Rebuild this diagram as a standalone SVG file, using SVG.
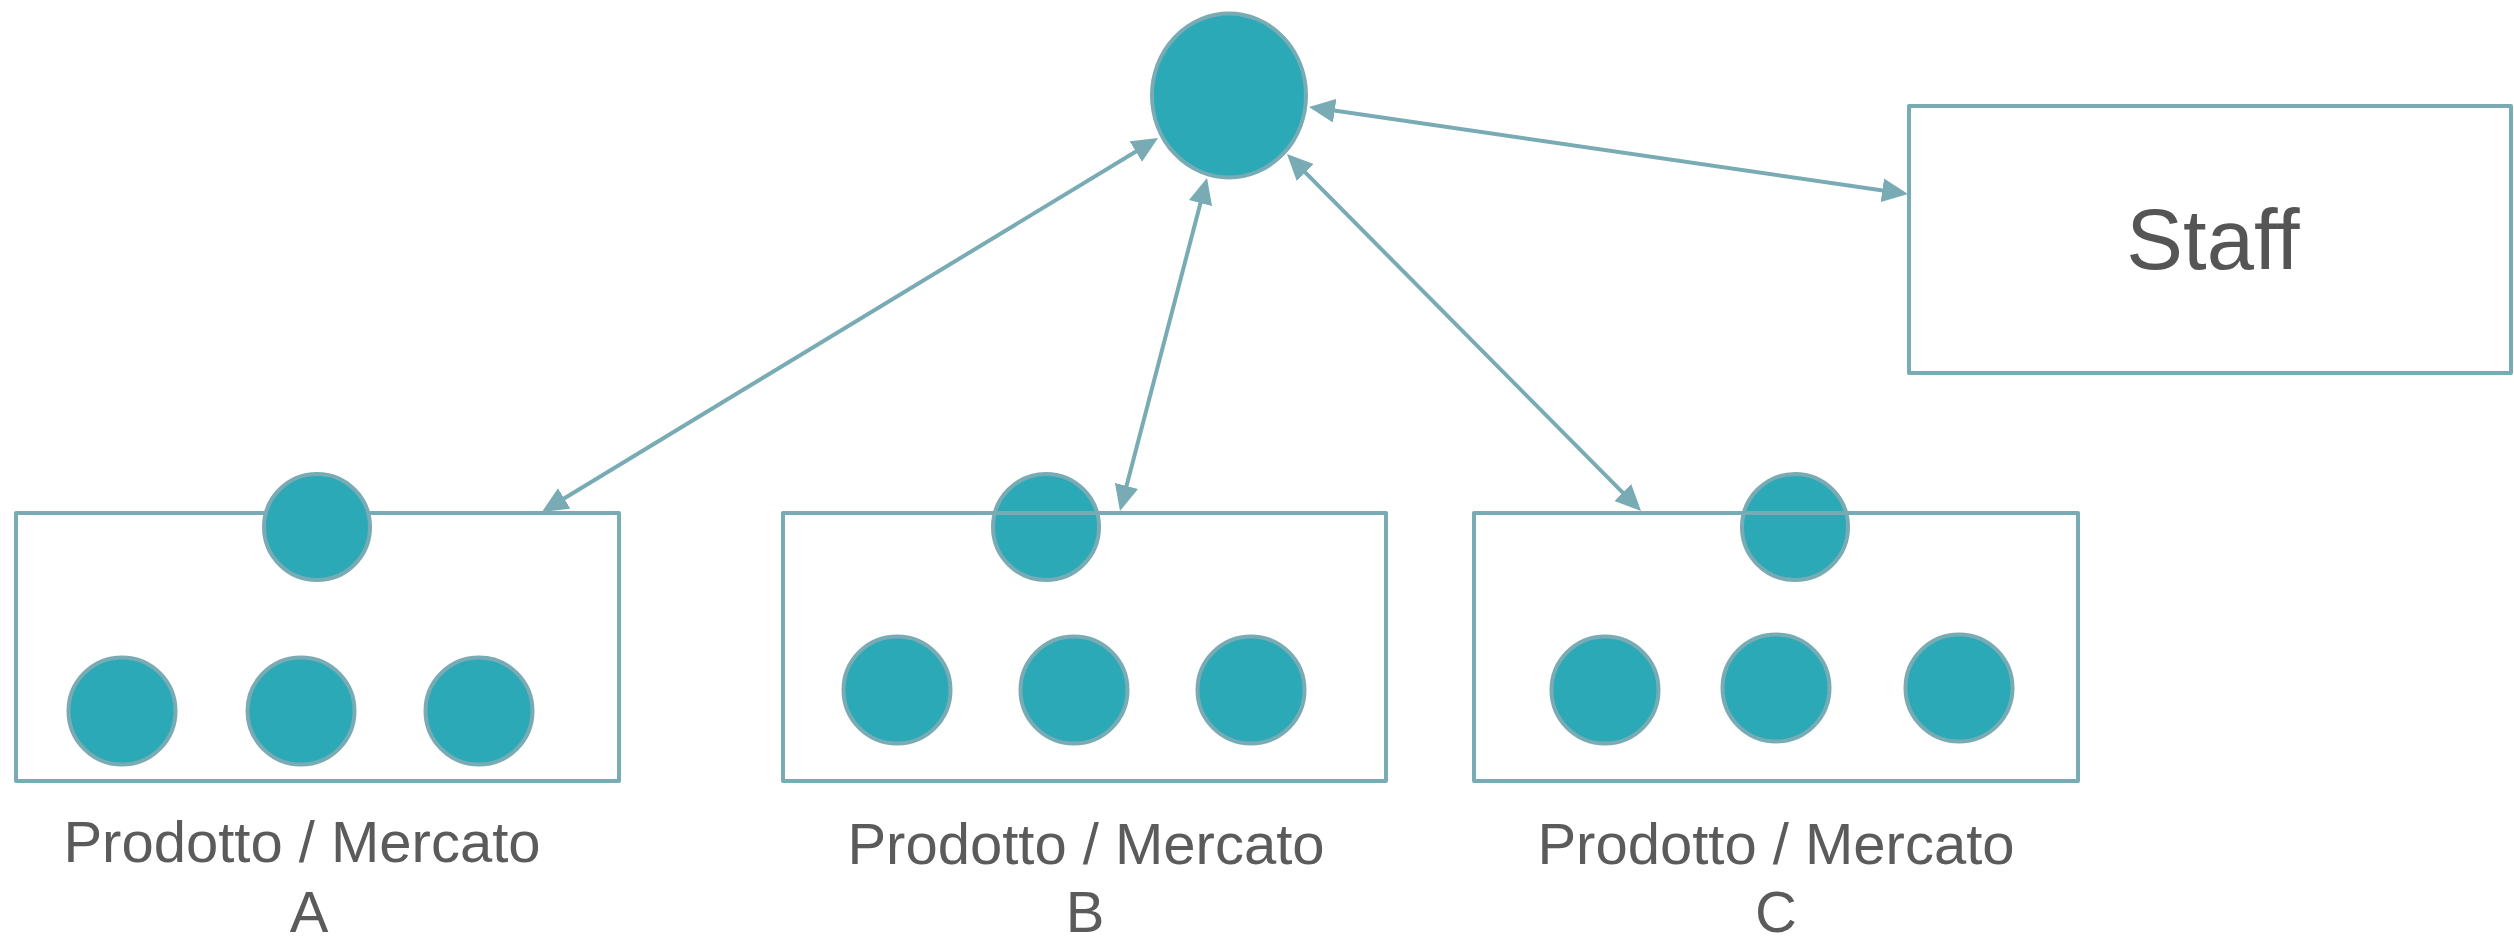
<svg xmlns="http://www.w3.org/2000/svg" width="2514" height="941" viewBox="0 0 2514 941">
<style>
.dot{fill:#2ca9b7;stroke:#78abb4;stroke-width:4}
.box{fill:none;stroke:#78abb4;stroke-width:4;stroke-linejoin:round}
.conn{stroke:#78abb4;stroke-width:4;fill:none}
.lbl{font-family:"Liberation Sans",Arial,sans-serif;font-size:58px;fill:#5b5b5b;text-anchor:middle}
.staff{font-family:"Liberation Sans",Arial,sans-serif;font-size:85px;fill:#555555;text-anchor:middle}
</style>
<defs>
<marker id="ah" viewBox="0 0 26 24" refX="18" refY="12" markerWidth="26" markerHeight="24" markerUnits="userSpaceOnUse" orient="auto-start-reverse">
<path d="M0,0 L26,12 L0,24 Z" fill="#78abb4"/>
</marker>
</defs>
<rect width="2514" height="941" fill="#ffffff"/>
<g id="head">
<ellipse class="dot" cx="1229" cy="95.5" rx="77" ry="82"/>
</g>
<g id="staff">
<rect class="box" x="1909" y="106" width="602" height="267"/>
<text class="staff" x="2213" y="269">Staff</text>
</g>
<g id="unitA">
<rect class="box" x="16" y="513" width="603" height="268"/>
<circle class="dot" cx="317" cy="527" r="53"/>
<circle class="dot" cx="122" cy="711" r="53.5"/>
<circle class="dot" cx="301" cy="711" r="53.5"/>
<circle class="dot" cx="479" cy="711" r="53.5"/>
<text class="lbl" x="302" y="862">Prodotto / Mercato</text>
<text class="lbl" x="309" y="932">A</text>
</g>
<g id="unitB">
<circle class="dot" cx="1046" cy="527" r="53"/>
<rect class="box" x="783" y="513" width="603" height="268"/>
<circle class="dot" cx="897" cy="690" r="53.5"/>
<circle class="dot" cx="1074" cy="690" r="53.5"/>
<circle class="dot" cx="1251" cy="690" r="53.5"/>
<text class="lbl" x="1086" y="864">Prodotto / Mercato</text>
<text class="lbl" x="1085" y="932">B</text>
</g>
<g id="unitC">
<circle class="dot" cx="1795" cy="527" r="53"/>
<rect class="box" x="1474" y="513" width="604" height="268"/>
<circle class="dot" cx="1605" cy="690" r="53.5"/>
<circle class="dot" cx="1776" cy="688" r="53.5"/>
<circle class="dot" cx="1959" cy="688" r="53.5"/>
<text class="lbl" x="1776" y="864">Prodotto / Mercato</text>
<text class="lbl" x="1776" y="932">C</text>
</g>
<g id="connectors">
<line class="conn" x1="1151.2" y1="142.2" x2="548.8" y2="507.8" marker-start="url(#ah)" marker-end="url(#ah)"/>
<line class="conn" x1="1205" y1="185.7" x2="1122" y2="503.3" marker-start="url(#ah)" marker-end="url(#ah)"/>
<line class="conn" x1="1292.6" y1="159.7" x2="1635.4" y2="505.3" marker-start="url(#ah)" marker-end="url(#ah)"/>
<line class="conn" x1="1316.9" y1="108.1" x2="1900.1" y2="192.9" marker-start="url(#ah)" marker-end="url(#ah)"/>
</g>
</svg>
